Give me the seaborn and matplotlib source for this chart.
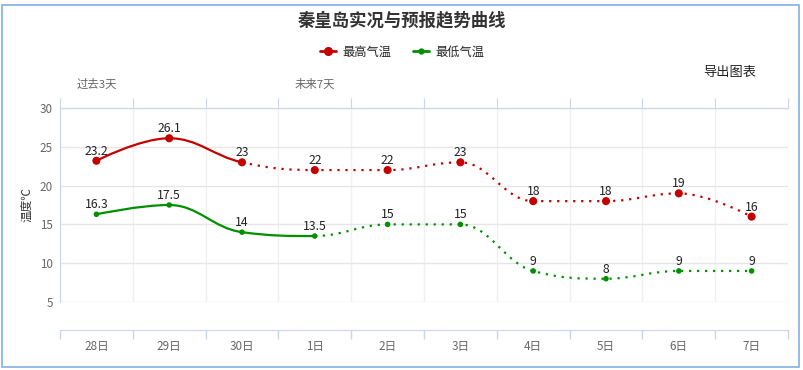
import numpy as np
import pandas as pd
import seaborn as sns
import matplotlib
matplotlib.use('Agg')
from matplotlib import pyplot as plt
from matplotlib.path import Path
from matplotlib.patches import PathPatch, Rectangle
from matplotlib.lines import Line2D

# data
days = ['28日', '29日', '30日', '1日', '2日', '3日', '4日', '5日', '6日', '7日']
high_temp = [23.2, 26.1, 23, 22, 22, 23, 18, 18, 19, 16]
low_temp = [16.3, 17.5, 14, 13.5, 15, 15, 9, 8, 9, 9]
high_last_observed = 2   # solid up to 30日, forecast after
low_last_observed = 3    # solid up to 1日
period_labels = ['过去3天', '未来7天']
period_pos = [0, 3]

RED = '#c40000'
GREEN = '#008f00'
AXIS = '#ccd6eb'
GRID = '#e6e6e6'

sns.set_style('white')
plt.rcParams['font.family'] = ['Noto Sans CJK SC', 'DejaVu Sans']

PX = 72 / 100  # points per pixel at dpi 100


# Highcharts-like spline: cubic bezier segments between points
def spline_segments(xs, ys, smoothing=1.5):
    n = len(xs)
    denom = smoothing + 1
    left = [None] * n
    right = [None] * n
    for i in range(n):
        x, y = xs[i], ys[i]
        if 0 < i < n - 1:
            lx, ly = xs[i - 1], ys[i - 1]
            nx, ny = xs[i + 1], ys[i + 1]
            lcx = (smoothing * x + lx) / denom
            lcy = (smoothing * y + ly) / denom
            rcx = (smoothing * x + nx) / denom
            rcy = (smoothing * y + ny) / denom
            if rcx != lcx:
                corr = ((rcy - lcy) * (rcx - x)) / (rcx - lcx) + y - rcy
                lcy += corr
                rcy += corr
            if lcy > ly and lcy > y:
                lcy = max(ly, y)
                rcy = 2 * y - lcy
            elif lcy < ly and lcy < y:
                lcy = min(ly, y)
                rcy = 2 * y - lcy
            if rcy > ny and rcy > y:
                rcy = max(ny, y)
                lcy = 2 * y - rcy
            elif rcy < ny and rcy < y:
                rcy = min(ny, y)
                lcy = 2 * y - rcy
            left[i] = (lcx, lcy)
            right[i] = (rcx, rcy)
        else:
            left[i] = right[i] = (x, y)
    return [[right[i], left[i + 1], (xs[i + 1], ys[i + 1])] for i in range(n - 1)]


def draw_spline(ax, ys, split, color):
    xs = list(range(len(ys)))
    segs = spline_segments(xs, ys)
    for start, stop, ls in [(0, split, '-'), (split, len(ys) - 1, (0, (1, 2.6)))]:
        verts = [(xs[start], ys[start])]
        codes = [Path.MOVETO]
        for seg in segs[start:stop]:
            verts += seg
            codes += [Path.CURVE4] * 3
        patch = PathPatch(Path(verts, codes), fill=False, edgecolor=color,
                          linewidth=1.6, linestyle=ls, zorder=3)
        ax.add_patch(patch)


fig = plt.figure(figsize=(8.04, 3.70), dpi=100)
W, H = 804, 370
ax = fig.add_axes([60 / W, (H - 302) / H, 728 / W, 194 / H])

df = pd.DataFrame({'x': range(len(days)), 'high': high_temp, 'low': low_temp})

draw_spline(ax, high_temp, high_last_observed, RED)
draw_spline(ax, low_temp, low_last_observed, GREEN)
sns.scatterplot(data=df, x='x', y='high', color=RED, s=34, edgecolor='none', ax=ax, zorder=4)
sns.scatterplot(data=df, x='x', y='low', color=GREEN, s=16, edgecolor='none', ax=ax, zorder=4)

for i in range(len(days)):
    for v in (high_temp[i], low_temp[i]):
        ax.annotate(f'{v:g}', (i, v), xytext=(0, 3), textcoords='offset pixels',
                    ha='center', va='bottom', fontsize=8.8, color='#222222', zorder=5)

ax.set_xlim(-0.5, len(days) - 0.5)
ax.set_ylim(5, 30)
bounds = np.arange(-0.5, len(days), 1.0)

ax.set_yticks([5, 10, 15, 20, 25, 30])
ax.tick_params(axis='y', length=0, labelsize=8.4, labelcolor='#666666', pad=5)
ax.set_xticks(bounds)
ax.set_xticks(range(len(days)), minor=True)
ax.set_xticklabels([])
ax.set_xticklabels(days, minor=True)
ax.tick_params(axis='x', which='major', length=9 * PX, color=AXIS, width=1, direction='out')
ax.tick_params(axis='x', which='minor', length=0, labelsize=8.4, labelcolor='#666666', pad=7)
ax.grid(axis='y', color=GRID, linewidth=1)
ax.grid(axis='x', which='major', color='#f0f0f0', linewidth=1)
ax.set_axisbelow(True)
ax.set_xlabel('')
ax.set_ylabel('温度℃', fontsize=8.4, color='#333333', labelpad=5)

ax.spines['right'].set_visible(False)
ax.spines['left'].set_color(AXIS)
ax.spines['top'].set_color(AXIS)
ax.spines['bottom'].set_color(AXIS)
ax.spines['bottom'].set_position(('outward', 28 * PX))

# top axis: past / forecast periods
top = ax.twiny()
top.set_xlim(ax.get_xlim())
top.set_xticks(bounds)
top.set_xticklabels([])
top.set_xticks(period_pos, minor=True)
top.set_xticklabels(period_labels, minor=True)
top.tick_params(axis='x', which='major', length=10 * PX, color=AXIS, direction='out')
top.tick_params(axis='x', which='minor', length=0, labelsize=8.2, labelcolor='#666666', pad=13)
for side in ['left', 'right', 'bottom']:
    top.spines[side].set_visible(False)
top.spines['top'].set_color(AXIS)

fig.text(0.5, 1 - 20 / H, '秦皇岛实况与预报趋势曲线', ha='center', va='center',
         fontsize=12.5, fontweight='bold', color='#333333')
handles = [Line2D([], [], color=RED, lw=2, marker='o', markersize=5.5),
           Line2D([], [], color=GREEN, lw=2, marker='o', markersize=3.5)]
fig.legend(handles, ['最高气温', '最低气温'], loc='center', bbox_to_anchor=(0.5, 1 - 52 / H),
           ncol=2, frameon=False, fontsize=8.8, handlelength=1.3, handletextpad=0.5,
           columnspacing=1.8)
fig.text(730 / W, 1 - 72 / H, '导出图表', ha='center', va='center', fontsize=9.5, color='#222222')

fig.patches.append(Rectangle((2 / W, 3 / H), 797 / W, 362 / H, transform=fig.transFigure,
                             fill=False, edgecolor='#7fb2e5', linewidth=1.2))

fig.savefig('out.png', dpi=100)
